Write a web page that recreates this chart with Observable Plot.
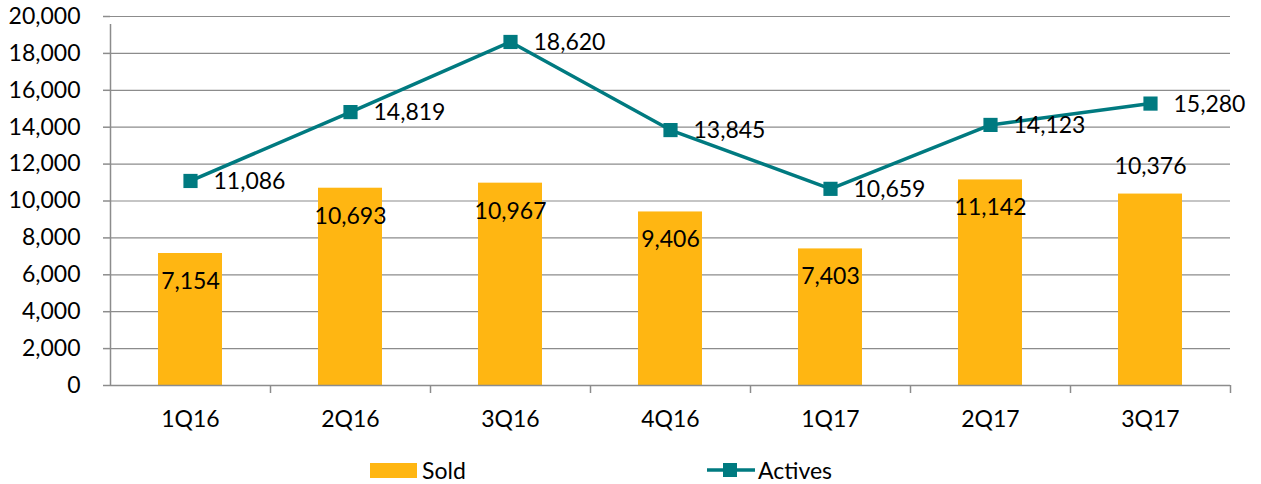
<!DOCTYPE html>
<html>
<head>
<meta charset="utf-8">
<script src="https://cdn.jsdelivr.net/npm/d3@7"></script>
<script src="https://cdn.jsdelivr.net/npm/@observablehq/plot@0.6"></script>
<style>
  html, body { margin: 0; padding: 0; background: #fff; }
  body { width: 1261px; height: 484px; overflow: hidden; font-family: Lato, "Open Sans", sans-serif; }
  #chart svg { display: block; }
  #legend { position: relative; width: 1261px; height: 44px; font-size: 23px; color: #000; }
  #legend .item { position: absolute; top: 0; height: 44px; }
  #legend .swatch { position: absolute; }
  #legend .label { position: absolute; top: 16px; line-height: 28px; white-space: nowrap; }
</style>
</head>
<body>
<div id="chart"></div>
<div id="legend"></div>
<script>
const quarters = ["1Q16", "2Q16", "3Q16", "4Q16", "1Q17", "2Q17", "3Q17"];
const sold = [7154, 10693, 10967, 9406, 7403, 11142, 10376];
const actives = [11086, 14819, 18620, 13845, 10659, 14123, 15280];
const yTicks = [0, 2000, 4000, 6000, 8000, 10000, 12000, 14000, 16000, 18000, 20000];
const seriesNames = ["Sold", "Actives"];

const barColor = "#FFB612";
const lineColor = "#007A80";
const gridColor = "#8C8C8C";
const font = "Lato, 'Open Sans', sans-serif";

const rows = quarters.map((q, i) => ({q, sold: sold[i], actives: actives[i], last: i === quarters.length - 1}));
const fmt = d3.format(",");

const chart = Plot.plot({
  width: 1261,
  height: 440,
  marginLeft: 110,
  marginRight: 31,
  marginTop: 16,
  marginBottom: 55,
  style: {fontFamily: font, fontSize: "23px", color: "#000", background: "#fff"},
  x: {type: "band", domain: quarters, padding: 0, label: null},
  y: {domain: [0, 20000], label: null},
  marks: [
    Plot.gridY(yTicks, {stroke: gridColor, strokeOpacity: 1, strokeWidth: 1.2}),
    Plot.barY(rows, {x: "q", y: "sold", fill: barColor, insetLeft: 48, insetRight: 48}),
    // axis lines
    Plot.ruleY([0], {stroke: gridColor, strokeWidth: 1.5}),
    Plot.ruleX([quarters[0]], {dx: -80, y1: 0, y2: 20000, stroke: gridColor, strokeWidth: 1.5, insetBottom: -8}),
    // x category boundary ticks
    Plot.ruleX(quarters.slice(1), {x: d => d, dx: -80, y1: 0, y2: 0, stroke: gridColor, strokeWidth: 1.5, insetBottom: -8}),
    Plot.ruleX([quarters[quarters.length - 1]], {dx: 80, y1: 0, y2: 0, stroke: gridColor, strokeWidth: 1.5, insetBottom: -8}),
    Plot.axisY(yTicks, {tickSize: 7, tickPadding: 23, tickFormat: fmt, stroke: gridColor, strokeWidth: 1.5, fontSize: 23}),
    Plot.axisX({tickSize: 0, tickPadding: 25, fontSize: 23}),
    // bar labels: inside the bar top, the last one above its bar
    Plot.text(rows.filter(d => !d.last), {x: "q", y: "sold", text: d => fmt(d.sold), dy: 28, fontSize: 23, fill: "#000"}),
    Plot.text(rows.filter(d => d.last), {x: "q", y: "sold", text: d => fmt(d.sold), dy: -27, fontSize: 23, fill: "#000"}),
    Plot.line(rows, {x: "q", y: "actives", stroke: lineColor, strokeWidth: 3.5}),
    Plot.dot(rows, {x: "q", y: "actives", symbol: "square", r: 8, fill: lineColor, stroke: "none"}),
    Plot.text(rows, {x: "q", y: "actives", text: d => fmt(d.actives), textAnchor: "start", dx: 23, dy: 1, fontSize: 23, fill: "#000"})
  ]
});
document.getElementById("chart").appendChild(chart);

// legend
const legend = document.getElementById("legend");
legend.innerHTML = `
  <div class="item" style="left:370px">
    <div class="swatch" style="left:0;top:23px;width:47px;height:15px;background:${barColor}"></div>
    <div class="label" style="left:52px">${seriesNames[0]}</div>
  </div>
  <div class="item" style="left:706px">
    <svg class="swatch" style="left:0;top:20px" width="50" height="20">
      <line x1="1" y1="10" x2="49" y2="10" stroke="${lineColor}" stroke-width="3.5"/>
      <rect x="17" y="3" width="14" height="14" fill="${lineColor}"/>
    </svg>
    <div class="label" style="left:52px">${seriesNames[1]}</div>
  </div>`;
</script>
</body>
</html>
